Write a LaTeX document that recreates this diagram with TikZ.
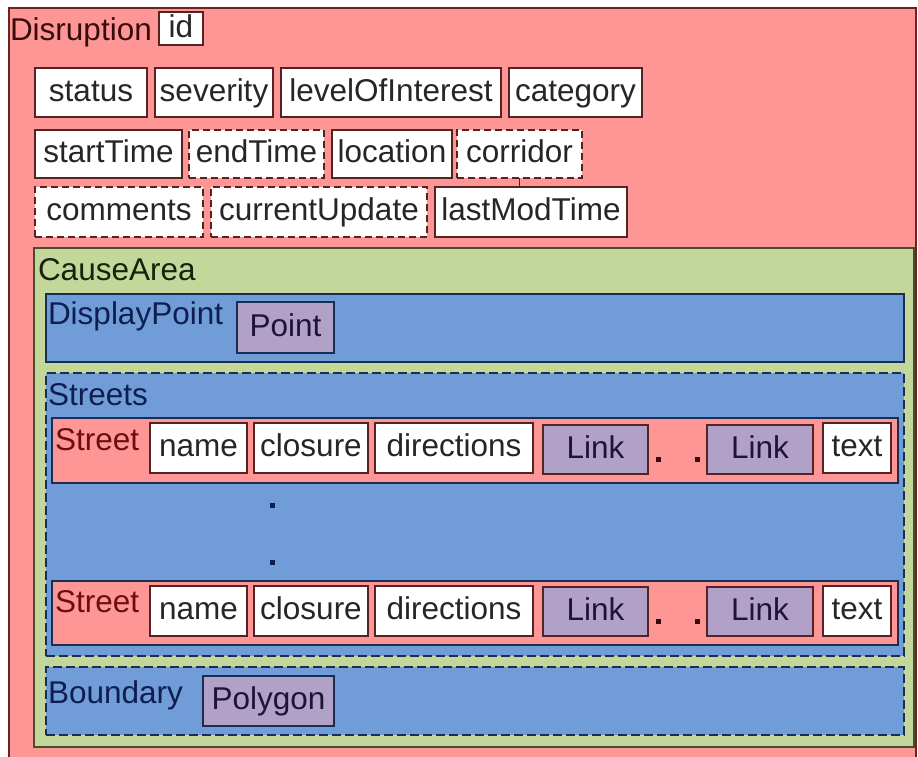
\documentclass[tikz,border=0pt]{standalone}
\usepackage{fontspec}
\setmainfont{Liberation Sans}
\definecolor{pinkf}{RGB}{255,150,150}
\definecolor{greenf}{RGB}{196,215,155}
\definecolor{bluef}{RGB}{112,156,216}
\definecolor{purpf}{RGB}{178,161,199}
\definecolor{outerb}{RGB}{105,35,35}
\definecolor{wborder}{RGB}{85,35,35}
\definecolor{pborder}{RGB}{70,45,70}
\definecolor{bborder}{RGB}{25,45,85}
\definecolor{gborder}{RGB}{75,75,45}
\definecolor{redtxt}{RGB}{55,12,12}
\definecolor{streettxt}{RGB}{105,15,15}
\definecolor{bluetxt}{RGB}{15,30,80}
\definecolor{greentxt}{RGB}{22,35,12}
\definecolor{linktxt}{RGB}{30,20,55}
\begin{document}
\begin{tikzpicture}[x=1pt,y=-1pt,
  every node/.style={font=\fontsize{31.5}{36}\selectfont, inner sep=0pt, outer sep=0pt},
  box/.style={draw, line width=1.4pt, anchor=north west, text height=23pt, text depth=6pt, align=center},
  wbox/.style={box, fill=white, draw=wborder, text=black!85},
  dbox/.style={wbox, dash pattern=on 7pt off 4pt},
  pbox/.style={box, fill=purpf, draw=pborder, text=linktxt},
  cont/.style={draw, line width=1.4pt, anchor=north west},
  pinkc/.style={cont, fill=pinkf, draw=outerb},
  greenc/.style={cont, fill=greenf, draw=gborder},
  bluec/.style={cont, fill=bluef, draw=bborder},
  blued/.style={bluec, dash pattern=on 9pt off 4pt},
  lbl/.style={anchor=base west},
  sqdot/.style={rectangle, minimum size=5pt, inner sep=0pt, anchor=center}
]
\useasboundingbox (0,0) rectangle (918,756);
\clip (0,0) rectangle (918,756);
\fill[white] (0,0) rectangle (918,756);

% Disruption container
\node[pinkc, minimum width=907pt, minimum height=770pt] (disruption) at (9,8) {};
\node[lbl, text=redtxt] (disruptionlbl) at (10,40) {Disruption};
\node[wbox, minimum width=44pt, minimum height=33pt] (id) at (159,12) {id};

% row 1
\node[wbox, minimum width=112pt, minimum height=49pt] (status) at (35,68) {status};
\node[wbox, minimum width=118pt, minimum height=49pt] (severity) at (155,68) {severity};
\node[wbox, minimum width=220pt, minimum height=49pt] (level) at (281,68) {levelOfInterest};
\node[wbox, minimum width=133pt, minimum height=49pt] (category) at (509,68) {category};

% row 2
\node[wbox, minimum width=147pt, minimum height=48pt] (start) at (35,130) {startTime};
\node[dbox, minimum width=135pt, minimum height=48pt] (end) at (189,130) {endTime};
\node[wbox, minimum width=120pt, minimum height=48pt] (location) at (332,130) {location};
\node[dbox, minimum width=125pt, minimum height=48pt] (corridor) at (457,130) {corridor};

% row 3
\node[dbox, minimum width=168pt, minimum height=50pt] (comments) at (35,187) {comments};
\node[dbox, minimum width=216pt, minimum height=50pt] (current) at (211,187) {currentUpdate};
\node[wbox, minimum width=192pt, minimum height=50pt] (lastmod) at (435,187) {lastModTime};
\draw[line width=1.2pt, draw=wborder] (corridor.south) -- (corridor.south |- lastmod.north);

% CauseArea
\node[greenc, minimum width=880pt, minimum height=499pt] (cause) at (34,248) {};
\node[lbl, text=greentxt] (causelbl) at (38,280) {CauseArea};

% DisplayPoint
\node[bluec, minimum width=858pt, minimum height=68pt] (display) at (46,294) {};
\node[lbl, text=bluetxt] (displaylbl) at (48,324) {DisplayPoint};
\node[pbox, draw=bborder, minimum width=97pt, minimum height=51pt] (point) at (237,302) {Point};

% Streets
\node[blued, minimum width=858pt, minimum height=283pt] (streets) at (46,373) {};
\node[lbl, text=bluetxt] (streetslbl) at (48,405) {Streets};

% Street 1
\node[pinkc, draw=bborder, minimum width=846pt, minimum height=65pt] (streetA) at (52,418) {};
\node[lbl, text=streettxt] (streetAlbl) at (55,450) {Street};
\node[wbox, minimum width=97pt, minimum height=50pt] (nameA) at (150,423) {name};
\node[wbox, minimum width=114pt, minimum height=50pt] (closureA) at (254,423) {closure};
\node[wbox, minimum width=158pt, minimum height=50pt] (dirA) at (375,423) {directions};
\node[pbox, draw=wborder, minimum width=105pt, minimum height=49pt] (linkA1) at (543,425) {Link};
\node[pbox, draw=wborder, minimum width=106pt, minimum height=49pt] (linkA2) at (707,425) {Link};
\node[wbox, minimum width=68pt, minimum height=50pt] (textA) at (823,423) {text};
\node[sqdot, fill=redtxt] (dA1) at (658,459) {};
\node[sqdot, fill=redtxt] (dA2) at (697,459) {};

% vertical dots
\node[sqdot, fill=bluetxt] (v1) at (272,505) {};
\node[sqdot, fill=bluetxt] (v2) at (272,562) {};

% Street 2
\node[pinkc, draw=bborder, minimum width=846pt, minimum height=64pt] (streetB) at (52,581) {};
\node[lbl, text=streettxt] (streetBlbl) at (55,612) {Street};
\node[wbox, minimum width=97pt, minimum height=50pt] (nameB) at (150,586) {name};
\node[wbox, minimum width=114pt, minimum height=50pt] (closureB) at (254,586) {closure};
\node[wbox, minimum width=158pt, minimum height=50pt] (dirB) at (375,586) {directions};
\node[pbox, draw=wborder, minimum width=105pt, minimum height=49pt] (linkB1) at (543,587) {Link};
\node[pbox, draw=wborder, minimum width=106pt, minimum height=49pt] (linkB2) at (707,587) {Link};
\node[wbox, minimum width=68pt, minimum height=50pt] (textB) at (823,586) {text};
\node[sqdot, fill=redtxt] (dB1) at (658,621) {};
\node[sqdot, fill=redtxt] (dB2) at (697,621) {};

% Boundary
\node[blued, minimum width=858pt, minimum height=68pt] (boundary) at (46,667) {};
\node[lbl, text=bluetxt] (boundarylbl) at (48,703) {Boundary};
\node[pbox, draw=bborder, minimum width=131pt, minimum height=50pt] (polygon) at (203,676) {Polygon};
\end{tikzpicture}
\end{document}
